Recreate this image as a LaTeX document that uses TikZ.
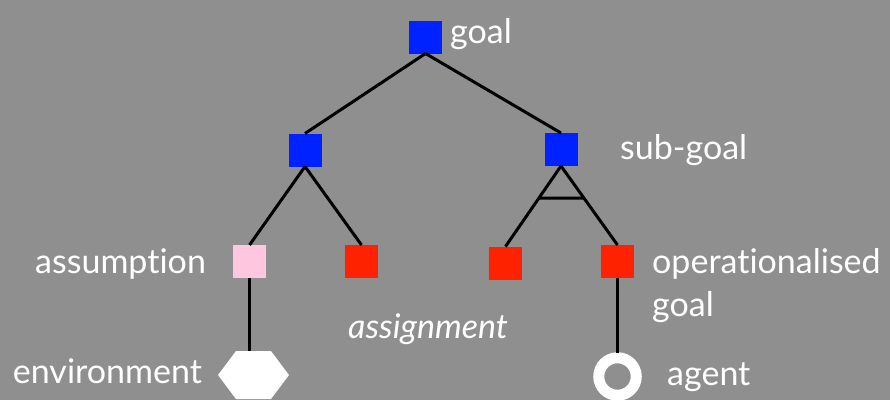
\documentclass[tikz,border=0pt]{standalone}
\usepackage{fontspec}
\setmainfont[Ligatures=NoCommon]{Lato}
\usetikzlibrary{calc}
\definecolor{bg}{RGB}{143,143,143}
\definecolor{gblue}{RGB}{0,34,255}
\definecolor{gred}{RGB}{255,34,0}
\definecolor{gpink}{RGB}{255,198,224}
\tikzset{
  sq/.style={minimum size=33pt, inner sep=0pt, outer sep=0pt, draw=none},
  goalsq/.style={sq, fill=gblue},
  opsq/.style={sq, fill=gred},
  asmsq/.style={sq, fill=gpink},
  link/.style={draw=black, line width=3pt},
  lbl/.style={text=white, anchor=base west, inner sep=0pt, font=\fontsize{34}{40}\selectfont},
}
\begin{document}
\begin{tikzpicture}[x=1pt,y=-1pt]
\fill[bg] (0,0) rectangle (890,400);
\useasboundingbox (0,0) rectangle (890,400);
% squares
\node[goalsq] (g) at (425.5,37) {};
\node[goalsq] (s1) at (305,150) {};
\node[goalsq] (s2) at (561,149.5) {};
\node[asmsq] (a) at (249.5,261.5) {};
\node[opsq] (r1) at (361.5,261.5) {};
\node[opsq] (r2) at (505.5,263) {};
\node[opsq] (r3) at (617.5,261.5) {};
% environment hexagon
\node[minimum width=71pt, minimum height=48pt, inner sep=0pt, outer sep=0pt] (env) at (253.5,375) {};
\fill[white] (env.west) -- ($(env.north west)+(18,0)$) -- ($(env.north east)+(-18,0)$) -- (env.east) -- ($(env.south east)+(-18,0)$) -- ($(env.south west)+(18,0)$) -- cycle;
% agent ring
\node[circle, draw=white, line width=11pt, minimum size=37.5pt, inner sep=0pt] (ag) at (617.5,376.5) {};
% links
\draw[link] (g.south) -- (s1.north);
\draw[link] (g.south) -- (s2.north);
\draw[link] (s1.south) -- (a.north);
\draw[link] (s1.south) -- (r1.north);
\draw[link] (s2.south) -- (r2.north);
\draw[link] (s2.south) -- (r3.north);
\draw[link] ($(s2.south)!0.4!(r2.north)$) coordinate (andl) -- ($(s2.south)!0.405!(r3.north)$) coordinate (andr);
\draw[link] (a.south) -- (a.south |- env.north);
\draw[link] (r3.south) -- ($(ag.center)+(0,-24)$) coordinate (agtop);
% labels
\node[lbl] (lgoal) at (450,43) {goal};
\node[lbl] (lsub) at (620,159) {sub-goal};
\node[lbl] (lop) at (652,273) {operationalised};
\node[lbl] (lop2) at (652,316) {goal};
\node[lbl] (lasm) at (35,273) {assumption};
\node[lbl] (lenv) at (12.7,383) {environment};
\node[lbl, font=\fontsize{34}{40}\selectfont\itshape] (lasg) at (348,338) {assignment};
\node[lbl] (lag) at (667,385) {agent};
\end{tikzpicture}
\end{document}
